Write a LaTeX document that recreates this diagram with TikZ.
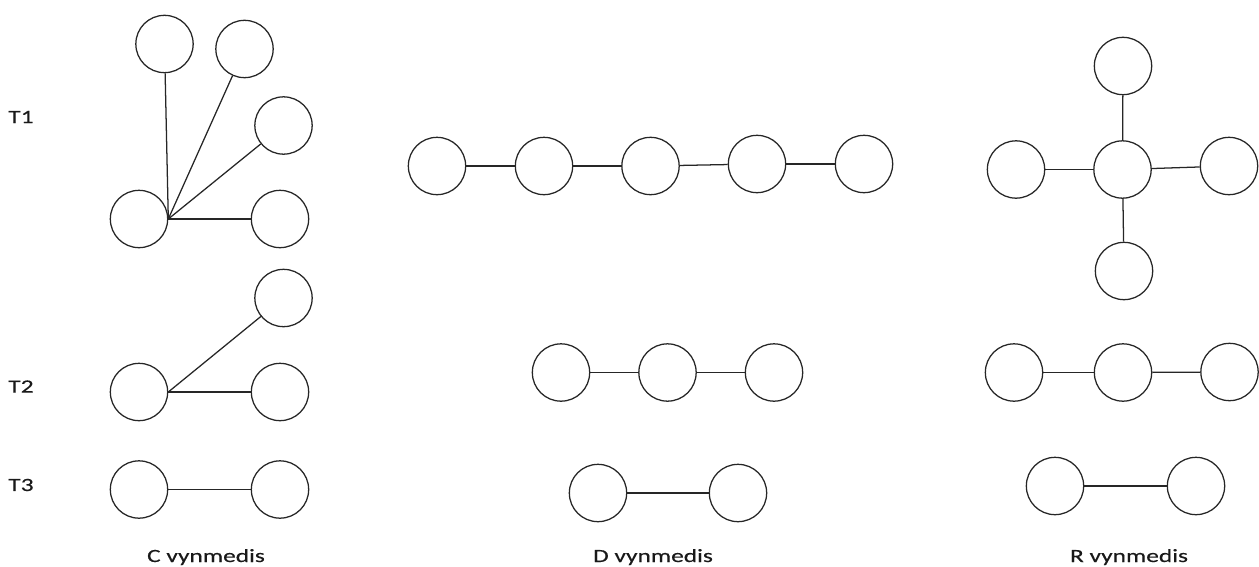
\documentclass[tikz,border=0pt]{standalone}
\usepackage{fontspec}
\setmainfont{Carlito}[FakeStretch=1.36,FakeBold=0.4]
\begin{document}
\begin{tikzpicture}[x=0.75pt,y=-0.75pt,
  vtx/.style={circle,draw=black!85,line width=0.95pt,minimum size=43pt,inner sep=0pt},
  edge/.style={draw=black!85,line width=0.95pt},
  lbl/.style={font=\fontsize{14}{16}\selectfont,inner sep=0pt,text=black!90}]
\useasboundingbox (0,0) rectangle (1259,567);
% row labels
\node[lbl] (t1) at (21,117) {T1};
\node[lbl] (t2) at (21,386.5) {T2};
\node[lbl] (t3) at (21,485) {T3};
% C group T1
\node[vtx] (c1c) at (139,219) {};
\node[vtx] (c1a) at (164.5,44) {};
\node[vtx] (c1b) at (244.5,49) {};
\node[vtx] (c1d) at (283.5,125.5) {};
\node[vtx] (c1e) at (280,219) {};
\draw[edge] (c1c.east) -- (c1a);
\draw[edge] (c1c.east) -- (c1b);
\draw[edge] (c1c.east) -- (c1d);
\draw[edge] (c1c.east) -- (c1e);
% C group T2
\node[vtx] (c2c) at (139,392) {};
\node[vtx] (c2a) at (283.5,298) {};
\node[vtx] (c2b) at (280,392) {};
\draw[edge] (c2c.east) -- (c2a);
\draw[edge] (c2c.east) -- (c2b);
% C group T3
\node[vtx] (c3a) at (139,489.5) {};
\node[vtx] (c3b) at (280,489.5) {};
\draw[edge] (c3a) -- (c3b);
% D group T1
\node[vtx] (d1a) at (437,166) {};
\node[vtx] (d1b) at (544,166) {};
\node[vtx] (d1c) at (650.5,166) {};
\node[vtx] (d1d) at (757,164) {};
\node[vtx] (d1e) at (864,164) {};
\draw[edge] (d1a) -- (d1b);
\draw[edge] (d1b) -- (d1c);
\draw[edge] (d1c) -- (d1d);
\draw[edge] (d1d) -- (d1e);
% D group T2
\node[vtx] (d2a) at (561,372.5) {};
\node[vtx] (d2b) at (667.5,372.5) {};
\node[vtx] (d2c) at (774,372.5) {};
\draw[edge] (d2a) -- (d2b);
\draw[edge] (d2b) -- (d2c);
% D group T3
\node[vtx] (d3a) at (598,493) {};
\node[vtx] (d3b) at (738,493) {};
\draw[edge] (d3a) -- (d3b);
% R group T1
\node[vtx] (r1c) at (1122.5,169.5) {};
\node[vtx] (r1t) at (1123,66) {};
\node[vtx] (r1l) at (1016,169.5) {};
\node[vtx] (r1r) at (1229,166) {};
\node[vtx] (r1b) at (1124,271) {};
\draw[edge] (r1c) -- (r1t);
\draw[edge] (r1c) -- (r1l);
\draw[edge] (r1c) -- (r1r);
\draw[edge] (r1c) -- (r1b);
% R group T2
\node[vtx] (r2a) at (1014,372.5) {};
\node[vtx] (r2b) at (1123,372.5) {};
\node[vtx] (r2c) at (1229.5,372) {};
\draw[edge] (r2a) -- (r2b);
\draw[edge] (r2b) -- (r2c);
% R group T3
\node[vtx] (r3a) at (1055,486) {};
\node[vtx] (r3b) at (1196,486) {};
\draw[edge] (r3a) -- (r3b);
% captions
\node[lbl,anchor=base] (capc) at (206,562) {C vynmedis};
\node[lbl,anchor=base] (capd) at (653,562) {D vynmedis};
\node[lbl,anchor=base] (capr) at (1129,562) {R vynmedis};
\end{tikzpicture}
\end{document}
